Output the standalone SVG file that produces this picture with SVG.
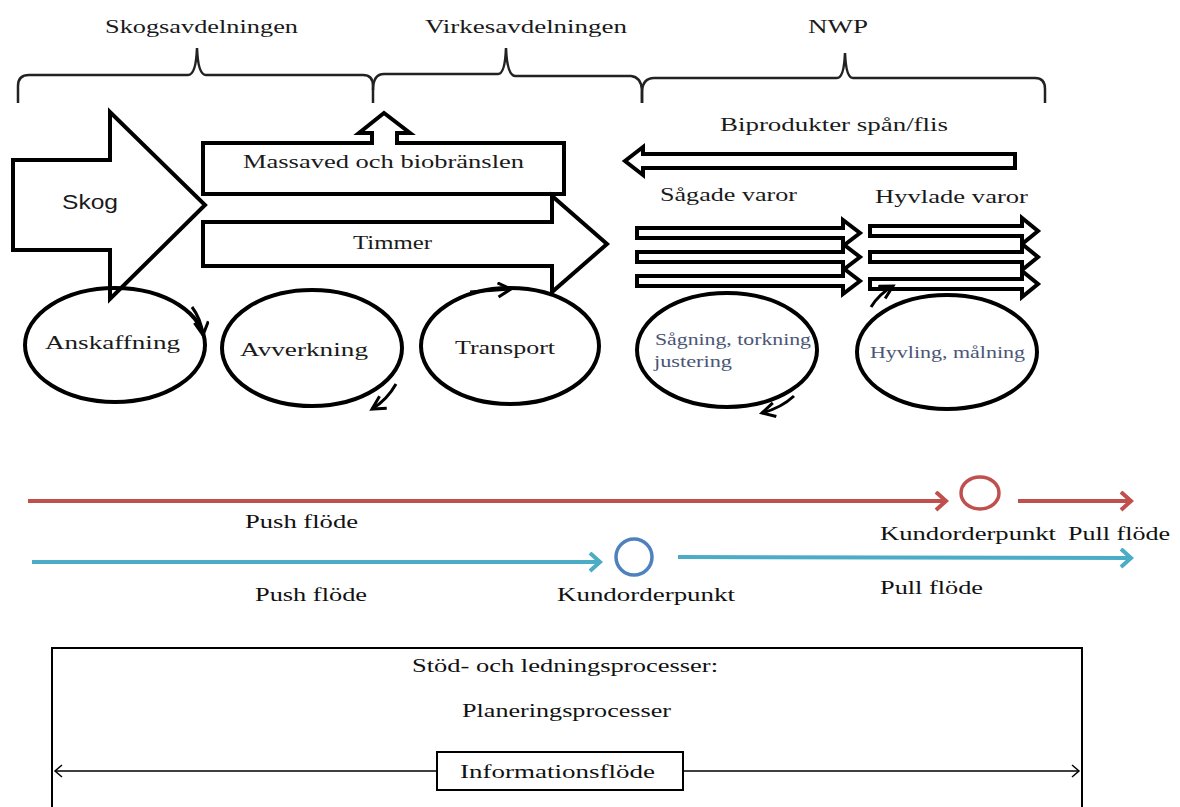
<svg xmlns="http://www.w3.org/2000/svg" width="1180" height="807" viewBox="0 0 1180 807">
<defs>
<style>
.t{font-family:"Liberation Serif","DejaVu Serif",serif;font-size:19px;fill:#1a1a1a}
.s{font-family:"Liberation Sans","DejaVu Sans",sans-serif;font-size:20px;fill:#1a1a1a}
.g{font-family:"Liberation Serif","DejaVu Serif",serif;font-size:16px;fill:#4a5575}
.f{font-family:"Liberation Serif","DejaVu Serif",serif;font-size:18px;fill:#111}
.brace{fill:none;stroke:#222;stroke-width:2.5}
.big{fill:#fff;stroke:#000;stroke-width:4;stroke-linejoin:miter}
.thin{fill:#fff;stroke:#000;stroke-width:4;stroke-linejoin:miter}
.ell{fill:none;stroke:#000;stroke-width:4}
.cyc{fill:none;stroke:#000;stroke-width:3}
.red{fill:none;stroke:#c0504d;stroke-width:4}
.teal{fill:none;stroke:#4bacc6;stroke-width:4}
.info{fill:none;stroke:#000;stroke-width:1.5}
</style>
<marker id="ah" markerUnits="userSpaceOnUse" markerWidth="20" markerHeight="20" refX="14" refY="8" orient="auto">
<path d="M1,1 L14,8 L1,15" fill="none" stroke="#000" stroke-width="3"/>
</marker>
<marker id="ahr" markerUnits="userSpaceOnUse" markerWidth="20" markerHeight="24" refX="12" refY="10" orient="auto">
<path d="M2,1 L12,10 L2,19" fill="none" stroke="#c0504d" stroke-width="4"/>
</marker>
<marker id="aht" markerUnits="userSpaceOnUse" markerWidth="20" markerHeight="24" refX="12" refY="10" orient="auto">
<path d="M2,1 L12,10 L2,19" fill="none" stroke="#4bacc6" stroke-width="4"/>
</marker>
<marker id="ahi" markerUnits="userSpaceOnUse" markerWidth="12" markerHeight="14" refX="8" refY="7" orient="auto-start-reverse">
<path d="M1,1 L8,7 L1,13" fill="none" stroke="#000" stroke-width="1.5"/>
</marker>
</defs>
<rect width="1180" height="807" fill="#fff"/>

<g id="braces">
<path class="brace" d="M18,103 V86 Q18,75 29,75 H188 Q196,75 197,48 Q198,75 206,75 H363 Q373,75 373,86 V103"/>
<path class="brace" d="M373,90 Q373,74 384,74 H498 Q505,74 506,48 Q507,75 515,76 H631 Q641,77 642,90 V103"/>
<path class="brace" d="M642,103 V91 Q643,78 654,78 H837 Q844,78 845,53 Q846,78 853,78 H1035 Q1045,78 1045,89 V103"/>
<text class="t" x="105" y="33" textLength="193" lengthAdjust="spacingAndGlyphs">Skogsavdelningen</text>
<text class="t" x="425" y="33" textLength="202" lengthAdjust="spacingAndGlyphs">Virkesavdelningen</text>
<text class="t" x="808" y="33" textLength="60" lengthAdjust="spacingAndGlyphs">NWP</text>
</g>

<g id="skog">
<polygon class="big" points="13,160 110,160 110,112 205,205 110,299 110,250 13,250"/>
<text class="s" x="62" y="209" textLength="56" lengthAdjust="spacingAndGlyphs">Skog</text>
</g>

<g id="massaved">
<polygon class="big" points="203,143 372,143 372,133 359,133 384,113 410,133 397,133 397,143 564,143 564,194 203,194"/>
<text class="t" x="243" y="168" textLength="281" lengthAdjust="spacingAndGlyphs">Massaved och biobränslen</text>
</g>

<g id="timmer">
<polygon class="big" points="203,222 552,222 552,196 607,244 552,292 552,266 203,266"/>
<text class="t" x="353" y="249" textLength="79" lengthAdjust="spacingAndGlyphs">Timmer</text>
</g>

<g id="biprodukter">
<polygon class="thin" points="1015,154 643,154 643,147 625,161 643,175 643,168 1015,168"/>
<text class="t" x="720" y="131" textLength="228" lengthAdjust="spacingAndGlyphs">Biprodukter spån/flis</text>
</g>

<g id="sagade">
<polygon class="thin" points="637,228 843,228 843,220 860,233 843,246 843,238 637,238"/>
<polygon class="thin" points="637,252 843,252 843,244 860,257 843,270 843,262 637,262"/>
<polygon class="thin" points="637,276 843,276 843,268 860,281 843,294 843,286 637,286"/>
<text class="t" x="660" y="201" textLength="137" lengthAdjust="spacingAndGlyphs">Sågade varor</text>
</g>

<g id="hyvlade">
<polygon class="thin" points="870,226 1022,226 1022,218 1038,231 1022,244 1022,236 870,236"/>
<polygon class="thin" points="870,252 1022,252 1022,244 1038,257 1022,270 1022,262 870,262"/>
<polygon class="thin" points="870,279 1022,279 1022,271 1038,284 1022,297 1022,289 870,289"/>
<text class="t" x="875" y="203" textLength="153" lengthAdjust="spacingAndGlyphs">Hyvlade varor</text>
</g>

<g id="anskaffning">
<ellipse class="ell" cx="115" cy="345" rx="90" ry="57"/>
<text class="t" x="45" y="349" textLength="135" lengthAdjust="spacingAndGlyphs">Anskaffning</text>
</g>
<g id="avverkning">
<ellipse class="ell" cx="312" cy="348" rx="90" ry="58"/>
<text class="t" x="240" y="356" textLength="128" lengthAdjust="spacingAndGlyphs">Avverkning</text>
</g>
<g id="transport">
<ellipse class="ell" cx="510" cy="346" rx="89" ry="58"/>
<text class="t" x="455" y="354" textLength="100" lengthAdjust="spacingAndGlyphs">Transport</text>
</g>
<g id="sagning">
<ellipse class="ell" cx="727" cy="350" rx="90" ry="57"/>
<text class="g" x="655" y="345" textLength="156" lengthAdjust="spacingAndGlyphs">Sågning, torkning</text>
<text class="g" x="654" y="367" textLength="78" lengthAdjust="spacingAndGlyphs">justering</text>
</g>
<g id="hyvling">
<ellipse class="ell" cx="947" cy="352" rx="90" ry="57"/>
<text class="g" x="870" y="358" textLength="155" lengthAdjust="spacingAndGlyphs">Hyvling, målning</text>
</g>

<g id="connectors">
<path class="cyc" d="M192,307 Q201,319 203,335" marker-end="url(#ah)"/>
<path class="cyc" d="M396,384 Q387,400 372,409" marker-end="url(#ah)"/>
<path class="cyc" d="M470,292 L511,289" marker-end="url(#ah)"/>
<path class="cyc" d="M794,396 Q781,408 762,413" marker-end="url(#ah)"/>
<path class="cyc" d="M871,307 Q879,294 893,286" marker-end="url(#ah)"/>

<line class="red" x1="28" y1="501" x2="946" y2="501" marker-end="url(#ahr)"/>
<line class="red" x1="1018" y1="501" x2="1131" y2="501" marker-end="url(#ahr)"/>
<line class="teal" x1="32" y1="562" x2="600" y2="562" marker-end="url(#aht)"/>
<line class="teal" x1="678" y1="557" x2="1131" y2="558" marker-end="url(#aht)"/>
<line class="info" x1="55" y1="771" x2="1079" y2="771" marker-start="url(#ahi)" marker-end="url(#ahi)"/>
</g>

<g id="kop-red">
<ellipse cx="980" cy="493" rx="19" ry="16" fill="none" stroke="#c0504d" stroke-width="3.5"/>
</g>
<g id="kop-blue">
<ellipse cx="634" cy="557" rx="18" ry="18" fill="none" stroke="#4f81bd" stroke-width="3.5"/>
</g>

<g id="flow-labels">
<text class="f" x="245" y="528" textLength="113" lengthAdjust="spacingAndGlyphs">Push flöde</text>
<text class="f" x="880" y="540" textLength="176" lengthAdjust="spacingAndGlyphs">Kundorderpunkt</text>
<text class="f" x="1068" y="540" textLength="102" lengthAdjust="spacingAndGlyphs">Pull flöde</text>
<text class="f" x="255" y="601" textLength="112" lengthAdjust="spacingAndGlyphs">Push flöde</text>
<text class="f" x="557" y="601" textLength="178" lengthAdjust="spacingAndGlyphs">Kundorderpunkt</text>
<text class="f" x="880" y="594" textLength="103" lengthAdjust="spacingAndGlyphs">Pull flöde</text>
</g>

<g id="stod">
<rect x="52" y="648" width="1030" height="175" fill="none" stroke="#000" stroke-width="2"/>
<text class="f" x="412" y="672" textLength="306" lengthAdjust="spacingAndGlyphs">Stöd- och ledningsprocesser:</text>
<text class="f" x="462" y="717" textLength="209" lengthAdjust="spacingAndGlyphs">Planeringsprocesser</text>
</g>
<g id="informationsflode">
<rect x="437" y="752" width="246" height="38" fill="#fff" stroke="#000" stroke-width="2"/>
<text class="f" x="460" y="778" textLength="195" lengthAdjust="spacingAndGlyphs">Informationsflöde</text>
</g>
</svg>
